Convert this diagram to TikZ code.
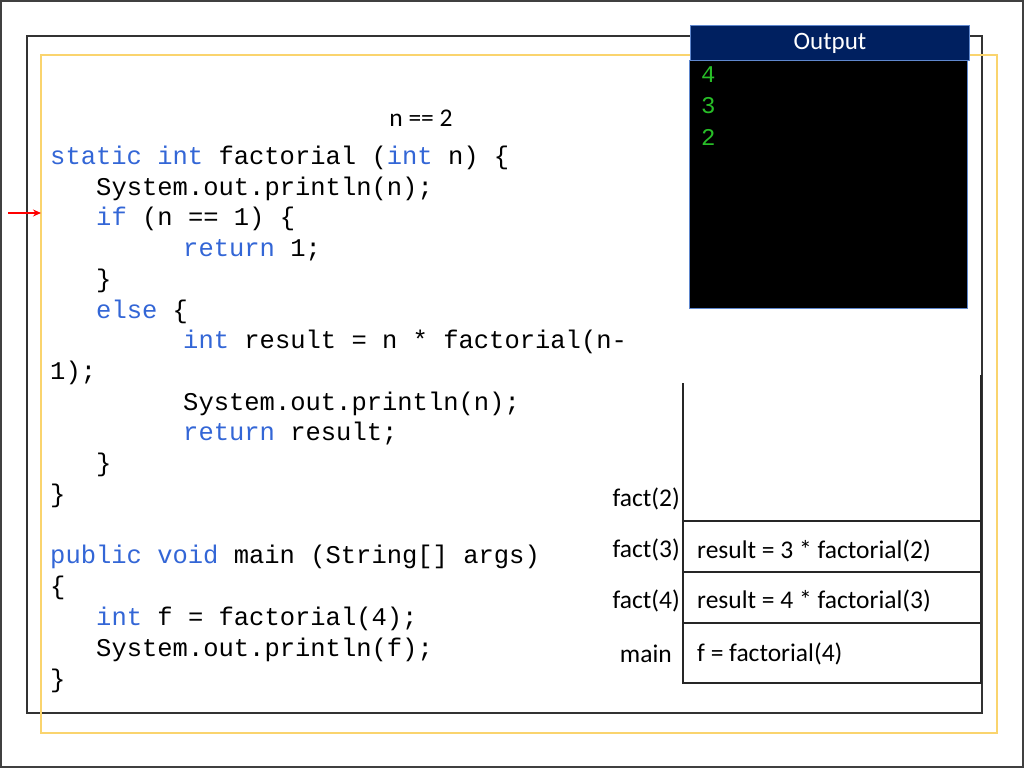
\documentclass[tikz,border=0pt]{standalone}
\usepackage{fontspec}
\setmainfont{Carlito}
\setmonofont{Liberation Mono}
\usepackage{xcolor}
\usetikzlibrary{arrows.meta}
\definecolor{kwblue}{RGB}{51,102,214}
\definecolor{outnavy}{RGB}{0,32,96}
\definecolor{outgreen}{RGB}{40,190,40}
\definecolor{frameyellow}{RGB}{250,212,110}
\definecolor{boxblue}{RGB}{95,135,205}
\newcommand{\kw}[1]{\textcolor{kwblue}{#1}}
\tikzset{
  code/.style={anchor=base west, inner sep=0pt, font=\fontsize{25.5}{30}\ttfamily},
  lbl/.style={inner sep=0pt, font=\fontsize{25.5}{30}\selectfont},
  stackline/.style={line width=1.5pt, black!85}
}

\begin{document}
\begin{tikzpicture}[x=1pt, y=-1pt]
\useasboundingbox (0,0) rectangle (1024,768);
% frames
\draw[black!75, line width=2pt] (1,1) rectangle (1023,767);
\draw[black!80, line width=1.5pt] (27,36) rectangle (982,713);
\draw[frameyellow, line width=2pt] (41,55) rectangle (997,733);
% code
\foreach \i/\x/\y/\txt in {
  1/50/164/{\kw{static} \kw{int} factorial (\kw{int} n) \{},
  2/96/195/{System.out.println(n);},
  3/96/225/{\kw{if} (n == 1) \{},
  4/183/256/{\kw{return} 1;},
  5/96/287/{\}},
  6/96/318/{\kw{else} \{},
  7/183/348/{\kw{int} result = n * factorial(n-},
  8/50/379/{1);},
  9/183/410/{System.out.println(n);},
  10/183/440/{\kw{return} result;},
  11/96/471/{\}},
  12/50/502/{\}},
  13/50/563/{\kw{public} \kw{void} main (String[] args)},
  14/50/594/{\{},
  15/96/625/{\kw{int} f = factorial(4);},
  16/96/656/{System.out.println(f);},
  17/50/687/{\}}} {
  \node[code] (c\i) at (\x,\y) {\txt};
}
\node[lbl] (nval) at (421,118) {n == 2};
% pointer
\coordinate (ptr) at (8,213);
\coordinate (ptrend) at (41,213);
\draw[red, line width=1.2pt, -{Stealth[length=8pt,width=7pt]}] (ptr) -- (ptrend);
% call stack
\draw[stackline] (683,383) -- (683,683) -- (981,683) -- (981,375);
\foreach \y in {521, 572, 623} {
  \draw[stackline] (683,\y) -- (981,\y);
}
\node[lbl, anchor=east] (s2) at (680,499) {fact(2)};
\node[lbl, anchor=east] (s3) at (680,550) {fact(3)};
\node[lbl, anchor=east] (s4) at (680,601) {fact(4)};
\node[lbl, anchor=east] (smain) at (672,654) {main};
\node[lbl, anchor=west] (v3) at (697,551) {result = 3 * factorial(2)};
\node[lbl, anchor=west] (v4) at (697,601) {result = 4 * factorial(3)};
\node[lbl, anchor=west] (vmain) at (697,654) {f = factorial(4)};
% output window
\node[fill=black, draw=boxblue, line width=1pt, anchor=north west,
  minimum width=278, minimum height=248, inner sep=0pt] (outbody) at (689,60) {};
\node[fill=outnavy, draw=boxblue, line width=1pt, anchor=north west, text=white,
  minimum width=279, minimum height=35, inner sep=0pt,
  font=\fontsize{25}{30}\selectfont] (outhead) at (690,25) {Output};
\foreach \d/\y in {4/75, 3/106, 2/137} {
  \node[anchor=west, inner sep=0pt, text=outgreen,
    font=\fontsize{24}{28}\ttfamily] (o\d) at (701,\y) {\d};
}
\end{tikzpicture}
\end{document}
